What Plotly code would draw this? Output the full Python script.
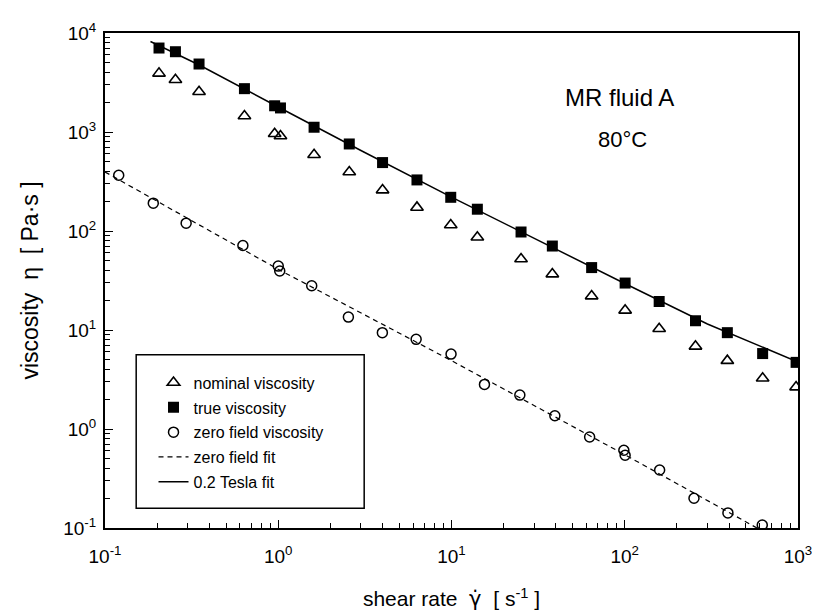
import plotly.graph_objects as go

# ---- data ----
shear_meas = [0.205, 0.255, 0.349, 0.638, 0.953, 1.03, 1.61, 2.57, 4.0, 6.32, 9.9,
              14.1, 25.2, 38.2, 64.4, 100.5, 158, 256, 391, 625, 975]
true_visc = [7050, 6470, 4860, 2740, 1840, 1750, 1117, 757, 491, 328, 219,
             166, 97.7, 70.5, 42.7, 29.8, 19.4, 12.4, 9.4, 5.78, 4.71]
nominal_visc = [3910, 3370, 2550, 1450, 960, 910, 590, 394, 259, 173, 115,
                86.5, 52.1, 36.7, 22.0, 15.8, 10.3, 6.84, 4.9, 3.25, 2.65]

shear_zero = [0.12, 0.19, 0.294, 0.625, 1.0, 1.02, 1.56, 2.54, 3.99, 6.25, 9.94,
              15.5, 24.8, 39.5, 62.7, 98.8, 100.5, 159, 251, 394, 622]
zero_visc = [366, 191, 120, 71.3, 44.2, 39.4, 28.0, 13.5, 9.4, 8.05, 5.71,
             2.82, 2.2, 1.36, 0.83, 0.61, 0.543, 0.385, 0.2, 0.142, 0.107]

fit_zero_x = [0.1, 1, 10, 100, 580]
fit_zero_y = [395, 41, 4.9, 0.55, 0.1]

fit_tesla_x = [0.183, 0.35, 1, 3, 10, 30, 100, 300, 1000]
fit_tesla_y = [8200, 4750, 1790, 650, 220, 84, 29.5, 11.5, 4.75]

x_tick_vals = [0.1, 1, 10, 100, 1000]
x_tick_text = ["10<sup>-1</sup>", "10<sup>0</sup>", "10<sup>1</sup>", "10<sup>2</sup>", "10<sup>3</sup>"]
y_tick_vals = [0.1, 1, 10, 100, 1000, 10000]
y_tick_text = ["10<sup>-1</sup>", "10<sup>0</sup>", "10<sup>1</sup>", "10<sup>2</sup>",
               "10<sup>3</sup>", "10<sup>4</sup>"]

FONT = "Liberation Sans, Arial, sans-serif"
SP = "\u00a0"

def minor_vals(lo_exp, hi_exp):
    out = []
    for e in range(lo_exp, hi_exp):
        for k in range(2, 10):
            out.append(k * 10 ** e)
    return out

fig = go.Figure()

fig.add_trace(go.Scatter(
    x=shear_meas, y=nominal_visc, mode="markers", name="nominal viscosity",
    legendgroup="a",
    marker=dict(symbol="triangle-up-open", size=11, color="black", line=dict(width=1.6)),
))
fig.add_trace(go.Scatter(
    x=shear_meas, y=true_visc, mode="markers", name="true viscosity",
    legendgroup="b",
    marker=dict(symbol="square", size=11, color="black"),
))
fig.add_trace(go.Scatter(
    x=shear_zero, y=zero_visc, mode="markers", name="zero field viscosity",
    legendgroup="c",
    marker=dict(symbol="circle-open", size=10, color="black", line=dict(width=1.5)),
))
fig.add_trace(go.Scatter(
    x=fit_zero_x, y=fit_zero_y, mode="lines", name="zero field fit",
    legendgroup="d",
    line=dict(color="black", width=1.2, dash="5px,4px"),
))
fig.add_trace(go.Scatter(
    x=fit_tesla_x, y=fit_tesla_y, mode="lines", name="0.2 Tesla fit",
    legendgroup="e",
    line=dict(color="black", width=1.5),
))

axis_common = dict(
    showgrid=False, zeroline=False,
    showline=True, linecolor="black", linewidth=2, mirror=True,
    ticks="inside", ticklen=8, tickwidth=1.3, tickcolor="black",
    tickfont=dict(family=FONT, size=19, color="black"),
    tickmode="array",
)

gamma_dot = "<span style='font-family:DejaVu Sans'>γ̇</span>"

fig.update_xaxes(
    type="log", range=[-1, 3],
    tickvals=x_tick_vals, ticktext=x_tick_text,
    ticklabelstandoff=10,
    minor=dict(tickmode="array", tickvals=minor_vals(-1, 3), ticks="inside",
               ticklen=5, tickwidth=1.2, tickcolor="black", showgrid=False),
    title=dict(text=f"shear rate{SP}{SP}{gamma_dot}{SP}{SP}[ s<sup>-1</sup> ]",
               font=dict(family=FONT, size=21, color="black"), standoff=26),
    **axis_common,
)
fig.update_yaxes(
    type="log", range=[-1, 4],
    tickvals=y_tick_vals, ticktext=y_tick_text,
    ticklabelstandoff=3,
    minor=dict(tickmode="array", tickvals=minor_vals(-1, 4), ticks="inside",
               ticklen=5, tickwidth=1.2, tickcolor="black", showgrid=False),
    title=dict(text=f"viscosity{SP}{SP}η{SP}{SP}[ Pa·s ]",
               font=dict(family=FONT, size=23, color="black"), standoff=18),
    **axis_common,
)

# legend frame
fig.add_shape(type="rect", xref="paper", yref="paper",
              x0=0.045, x1=0.374, y0=0.04, y1=0.35,
              line=dict(color="black", width=1.5), fillcolor="rgba(0,0,0,0)")

fig.add_annotation(text="MR fluid A", xref="paper", yref="paper", x=0.742, y=0.87,
                   xanchor="center", yanchor="middle",
                   showarrow=False, font=dict(family=FONT, size=24, color="black"))
fig.add_annotation(text="80°C", xref="paper", yref="paper", x=0.747, y=0.784,
                   xanchor="center", yanchor="middle",
                   showarrow=False, font=dict(family=FONT, size=22, color="black"))

fig.update_layout(
    width=820, height=611,
    margin=dict(l=97, r=30, t=20, b=91),
    paper_bgcolor="white", plot_bgcolor="white",
    font=dict(family=FONT, color="black"),
    showlegend=True,
    legend=dict(x=0.07, y=0.328, xanchor="left", yanchor="top",
                bgcolor="rgba(0,0,0,0)", borderwidth=0,
                font=dict(family=FONT, size=16, color="black"),
                tracegroupgap=1, traceorder="grouped"),
)

fig.write_html("out.html")
